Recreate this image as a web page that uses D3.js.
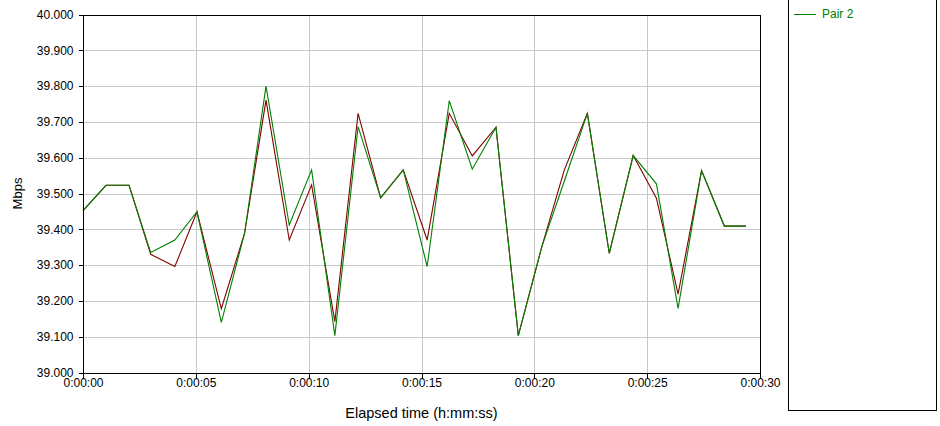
<!DOCTYPE html>
<html>
<head>
<meta charset="utf-8">
<script src="https://cdn.jsdelivr.net/npm/d3@7/dist/d3.min.js"></script>
<style>
  html, body { margin: 0; padding: 0; background: #fff; }
  svg { display: block; font-family: "Liberation Sans", Arial, sans-serif; }
</style>
</head>
<body>
<svg id="chart" width="940" height="426"></svg>
<script>
// Elapsed time of each sample, in seconds
const elapsed = [0, 1.02, 2.04, 3.0, 4.07, 5.05, 6.13, 7.16, 8.11, 9.14,
  10.13, 11.16, 12.19, 13.19, 14.19, 15.25, 16.23, 17.25, 18.3, 19.29,
  20.33, 21.33, 22.35, 23.32, 24.38, 25.41, 26.37, 27.41, 28.42, 29.38];

// Throughput per pair, Mbps
const pair1 = [39.452, 39.523, 39.523, 39.330, 39.296, 39.449, 39.178, 39.389, 39.761, 39.370,
  39.524, 39.142, 39.724, 39.488, 39.566, 39.370, 39.724, 39.605, 39.685, 39.103,
  39.351, 39.566, 39.724, 39.333, 39.606, 39.487, 39.219, 39.564, 39.409, 39.409];
const pair2 = [39.452, 39.523, 39.523, 39.335, 39.370, 39.449, 39.140, 39.389, 39.800, 39.412,
  39.566, 39.103, 39.687, 39.488, 39.566, 39.296, 39.759, 39.568, 39.685, 39.103,
  39.351, 39.535, 39.724, 39.333, 39.606, 39.527, 39.179, 39.564, 39.409, 39.409];

const seriesNames = ["Pair 1", "Pair 2"];
const seriesColors = ["#800000", "#008000"];

const yTicks = [39.0, 39.1, 39.2, 39.3, 39.4, 39.5, 39.6, 39.7, 39.8, 39.9, 40.0];
const xTicks = [0, 5, 10, 15, 20, 25, 30];
const xTickLabels = ["0:00:00", "0:00:05", "0:00:10", "0:00:15", "0:00:20", "0:00:25", "0:00:30"];

const svg = d3.select("#chart");
const plot = { left: 83, top: 14.5, right: 760, bottom: 372.5 };

const x = d3.scaleLinear().domain([0, 30]).range([plot.left, plot.right]);
const y = d3.scaleLinear().domain([39.0, 40.0]).range([plot.bottom, plot.top]);

// grid
const grid = svg.append("g").attr("shape-rendering", "crispEdges");
grid.selectAll("line.h").data(yTicks.slice(1, -1)).join("line")
  .attr("x1", plot.left).attr("x2", plot.right)
  .attr("y1", d => Math.round(y(d)) + 0.5).attr("y2", d => Math.round(y(d)) + 0.5)
  .attr("stroke", "#c8c8c8").attr("stroke-width", 1);
grid.selectAll("line.v").data(xTicks.slice(1, -1)).join("line")
  .attr("y1", plot.top).attr("y2", plot.bottom)
  .attr("x1", d => Math.round(x(d)) + 0.5).attr("x2", d => Math.round(x(d)) + 0.5)
  .attr("stroke", "#c8c8c8").attr("stroke-width", 1);

// series lines (Pair 2 drawn last, on top)
const line = d3.line().x((d, i) => x(elapsed[i])).y(d => y(d));
[pair1, pair2].forEach((vals, k) => {
  svg.append("path").datum(vals)
    .attr("d", line)
    .attr("fill", "none")
    .attr("stroke", seriesColors[k])
    .attr("stroke-width", 1.1)
    .attr("stroke-linejoin", "miter");
});

// frame
svg.append("rect")
  .attr("x", plot.left + 0.5).attr("y", Math.round(plot.top) + 0.5)
  .attr("width", plot.right - plot.left).attr("height", Math.round(plot.bottom) - Math.round(plot.top))
  .attr("fill", "none").attr("stroke", "#000").attr("shape-rendering", "crispEdges");

// y axis
const yAxis = d3.axisLeft(y).tickValues(yTicks).tickFormat(d3.format(".3f")).tickSize(5).tickSizeOuter(0);
const gy = svg.append("g").attr("transform", `translate(${plot.left + 0.5},0)`).call(yAxis);
gy.select(".domain").remove();
gy.selectAll("text").attr("font-size", 12).attr("fill", "#000").attr("x", -10)
  .attr("font-family", "'Liberation Sans', Arial, sans-serif");
gy.selectAll("line").attr("stroke", "#000").attr("shape-rendering", "crispEdges");

// x axis
const xAxis = d3.axisBottom(x).tickValues(xTicks).tickFormat((d, i) => xTickLabels[i]).tickSize(5).tickSizeOuter(0);
const gx = svg.append("g").attr("transform", `translate(0,${Math.round(plot.bottom) + 0.5})`).call(xAxis);
gx.select(".domain").remove();
gx.selectAll("text").attr("font-size", 12).attr("fill", "#000").attr("y", 5)
  .attr("font-family", "'Liberation Sans', Arial, sans-serif");
gx.selectAll("line").attr("stroke", "#000").attr("shape-rendering", "crispEdges");

// axis titles
svg.append("text")
  .attr("x", (plot.left + plot.right) / 2).attr("y", 418)
  .attr("text-anchor", "middle").attr("font-size", 14.5).attr("fill", "#000")
  .text("Elapsed time (h:mm:ss)");
svg.append("text")
  .attr("transform", `translate(22,${(plot.top + plot.bottom) / 2}) rotate(-90)`)
  .attr("text-anchor", "middle").attr("font-size", 13).attr("fill", "#000")
  .text("Mbps");

// legend panel, scrolled so that its last entry sits at the top of the view
const legend = svg.append("g");
legend.append("rect")
  .attr("x", 788.5).attr("y", -30.5).attr("width", 148).attr("height", 441)
  .attr("fill", "#fff").attr("stroke", "#000").attr("shape-rendering", "crispEdges");
const rowH = 26, lastRowY = 14;
const rows = seriesNames
  .map((name, k) => ({ name, color: seriesColors[k], y: lastRowY - (seriesNames.length - 1 - k) * rowH }))
  .filter(r => r.y - 8 >= 0);
rows.forEach(r => {
  legend.append("line")
    .attr("x1", 794).attr("x2", 816).attr("y1", r.y + 0.5).attr("y2", r.y + 0.5)
    .attr("stroke", r.color).attr("shape-rendering", "crispEdges");
  legend.append("text")
    .attr("x", 822).attr("y", r.y).attr("dy", "0.35em")
    .attr("font-size", 12).attr("fill", r.color)
    .text(r.name);
});
</script>
</body>
</html>
